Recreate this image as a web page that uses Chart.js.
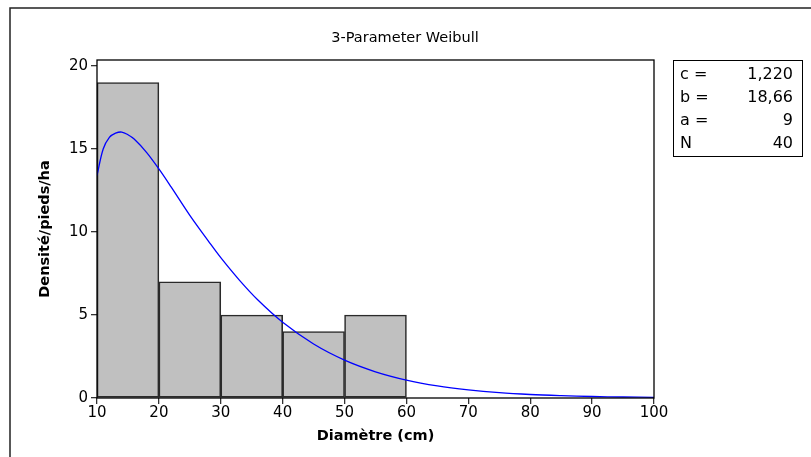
<!DOCTYPE html>
<html>
<head>
<meta charset="utf-8">
<script src="https://cdn.jsdelivr.net/npm/chart.js@4/dist/chart.umd.min.js"></script>
<style>
  html, body { margin: 0; padding: 0; background: #fff; }
  #wrap { width: 811px; height: 457px; position: relative; }
</style>
</head>
<body>
<div id="wrap"><canvas id="c" width="811" height="457"></canvas></div>
<script>
// ---- data ----
const chartTitle = '3-Parameter Weibull';
const xAxisLabel = 'Diamètre (cm)';
const yAxisLabel = 'Densité/pieds/ha';
const binStarts = [10, 20, 30, 40, 50];
const binWidth = 10;
const binCounts = [19, 7, 5, 4, 5];
const curveX = [10, 11, 12, 13, 14, 15, 16, 18, 20, 22, 25, 28, 30, 33, 36, 40, 45, 50, 55, 60, 65, 70, 75, 80, 85, 90, 95, 100];
const curveY = [13.4, 15.0, 15.7, 15.95, 16.02, 15.86, 15.6, 14.8, 13.8, 12.7, 11.0, 9.45, 8.45, 7.1, 5.9, 4.56, 3.25, 2.28, 1.58, 1.08, 0.73, 0.49, 0.32, 0.21, 0.14, 0.09, 0.06, 0.04];
const yTicks = [0, 5, 10, 15, 20];
const xTicks = [10, 20, 30, 40, 50, 60, 70, 80, 90, 100];
const paramLabels = ['c =', 'b =', 'a =', 'N'];
const paramValues = ['1,220', '18,66', '9', '40'];

const FONT = 'DejaVu Sans';

const decor = {
  id: 'decor',
  beforeDraw(chart) {
    const ctx = chart.ctx;
    ctx.save();
    ctx.fillStyle = '#fff';
    ctx.fillRect(0, 0, chart.width, chart.height);
    ctx.strokeStyle = '#222';
    ctx.lineWidth = 1.5;
    ctx.beginPath();
    ctx.moveTo(10, chart.height);
    ctx.lineTo(10, 8);
    ctx.lineTo(chart.width, 8);
    ctx.stroke();
    ctx.restore();
  },
  afterDraw(chart) {
    const ctx = chart.ctx;
    const a = chart.chartArea;
    ctx.save();
    // plot frame
    ctx.strokeStyle = '#000';
    ctx.lineWidth = 1.3;
    ctx.strokeRect(a.left, a.top, a.right - a.left, a.bottom - a.top);
    // title
    ctx.fillStyle = '#000';
    ctx.font = '14.5px "' + FONT + '"';
    ctx.textAlign = 'center';
    ctx.textBaseline = 'middle';
    ctx.fillText(chartTitle, 405, 38);
    // parameter box
    ctx.strokeStyle = '#000';
    ctx.lineWidth = 1;
    ctx.strokeRect(673.5, 60.5, 129, 96);
    ctx.font = '16px "' + FONT + '"';
    paramLabels.forEach((lab, i) => {
      const y = 75 + i * 23;
      ctx.textAlign = 'left';
      ctx.fillText(lab, 680, y);
      ctx.textAlign = 'right';
      ctx.fillText(paramValues[i], 793, y);
    });
    ctx.restore();
  }
};

new Chart(document.getElementById('c'), {
  type: 'bar',
  data: {
    datasets: [
      {
        type: 'line',
        data: curveX.map((x, i) => ({ x: x, y: curveY[i] })),
        borderColor: '#0000ff',
        borderWidth: 1.3,
        pointRadius: 0,
        tension: 0.35,
        fill: false,
        order: 0
      },
      {
        type: 'bar',
        data: binStarts.map((s, i) => ({ x: s + binWidth / 2, y: binCounts[i] })),
        backgroundColor: '#c0c0c0',
        borderColor: '#2a2a2a',
        borderWidth: 1.6,
        borderSkipped: false,
        barPercentage: 1,
        categoryPercentage: 1,
        grouped: false,
        order: 1
      }
    ]
  },
  options: {
    responsive: false,
    animation: false,
    devicePixelRatio: 1,
    layout: { padding: { left: 0, right: 157, top: 60, bottom: 0 } },
    plugins: { legend: { display: false }, title: { display: false }, tooltip: { enabled: false } },
    scales: {
      x: {
        type: 'linear',
        min: 10,
        max: 100,
        offset: false,
        afterBuildTicks: s => { s.ticks = xTicks.map(v => ({ value: v })); },
        afterFit: s => { s.height = 59; },
        ticks: { color: '#000', font: { family: FONT, size: 15 }, padding: 0, maxRotation: 0, autoSkip: false },
        grid: { drawOnChartArea: false, offset: false, tickLength: 6, color: '#333', lineWidth: 1.3 },
        border: { display: false },
        title: { display: true, text: xAxisLabel, color: '#000', font: { family: FONT, size: 14.5, weight: 'bold' }, padding: { top: 0, bottom: 12.3 } }
      },
      y: {
        min: 0,
        max: 20.36,
        afterBuildTicks: s => { s.ticks = yTicks.map(v => ({ value: v })); },
        afterFit: s => { s.width = 97; },
        ticks: { color: '#000', font: { family: FONT, size: 15 }, padding: 3 },
        grid: { drawOnChartArea: false, tickLength: 6, color: '#333', lineWidth: 1.3 },
        border: { display: false },
        title: { display: true, text: yAxisLabel, color: '#000', font: { family: FONT, size: 14.5, weight: 'bold' }, padding: { top: 36.3, bottom: 0 } }
      }
    }
  },
  plugins: [decor]
});
</script>
</body>
</html>
